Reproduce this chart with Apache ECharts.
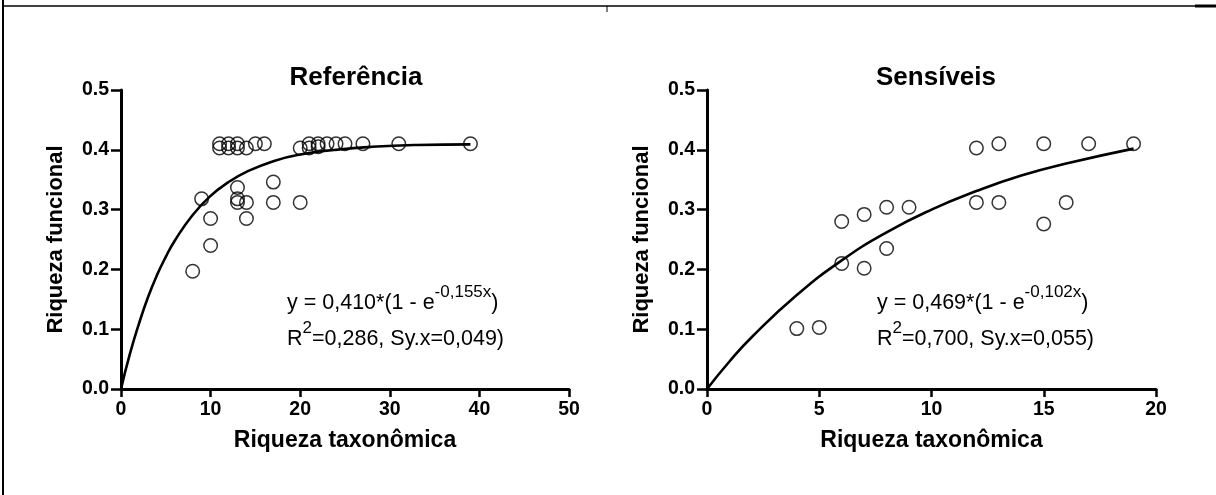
<!DOCTYPE html>
<html><head><meta charset="utf-8">
<script src="https://cdn.jsdelivr.net/npm/echarts@6/dist/echarts.min.js"></script>
<style>html,body{margin:0;padding:0;background:#fff}#c{width:1216px;height:495px}</style>
</head><body><div id="c"></div>
<script>
// Referência (taxonomic richness vs functional richness)
const refPoints = [
  [11,0.410],[11,0.403],[12,0.410],[12,0.403],[13,0.410],[13,0.403],[14,0.403],[15,0.410],[16,0.410],
  [20,0.403],[21,0.410],[21,0.403],[22,0.410],[22,0.405],[23,0.410],[24,0.410],[25,0.410],[27,0.410],[31,0.410],[39,0.410],
  [8,0.197],[9,0.318],[10,0.285],[10,0.240],[13,0.337],[13,0.318],[13,0.312],[14,0.312],[14,0.285],
  [17,0.346],[17,0.312],[20,0.312]
];
// fitted curve (y = 0,410*(1 - e^-0,155x))
const refCurve = [[0,0],[1,0.059],[2,0.109],[3,0.153],[4,0.190],[5,0.221],[6,0.248],[8,0.291],[10,0.323],[12,0.346],[14,0.363],[17,0.381],[20,0.392],[24,0.400],[28,0.405],[33,0.408],[39,0.409]];
// Sensíveis
const senPoints = [
  [4,0.101],[5,0.103],[6,0.280],[6,0.210],[7,0.292],[7,0.202],[8,0.304],[8,0.235],[9,0.304],
  [12,0.403],[12,0.312],[13,0.410],[13,0.312],[15,0.410],[15,0.276],[16,0.312],[17,0.410],[19,0.410]
];
// fitted curve (y = 0,469*(1 - e^-0,102x))
const senCurve = [[0,0],[1,0.046],[2,0.087],[4,0.157],[6,0.215],[8,0.262],[10,0.300],[12,0.331],[14,0.357],[16,0.377],[19,0.402]];

const titles = ['Referência','Sensíveis'];
const xTitle = 'Riqueza taxonômica';
const yTitle = 'Riqueza funcional';
const xMax = [50, 20], xStep = [10, 5];
const yMax = 0.5, yStep = 0.1;
const eqMain = ['y = 0,410*(1 - e', 'y = 0,469*(1 - e'];
const eqExp = ['-0,155x', '-0,102x'];
const eqStats = [['0,286','0,049'],['0,700','0,055']];

const FONT = '"Liberation Sans", Arial, sans-serif';
const chart = echarts.init(document.getElementById('c'), null, {renderer:'canvas'});

const grids = [
  {left:121, right:647, top:90, bottom:106},
  {left:707, right:60, top:90, bottom:106}
];
function xAx(i){
  return {gridIndex:i, type:'value', min:0, max:xMax[i], interval:xStep[i],
    name:xTitle, nameLocation:'middle', nameGap:40,
    nameTextStyle:{fontFamily:FONT, fontWeight:'bold', fontSize:23, color:'#000'},
    axisLine:{show:true, onZero:false, lineStyle:{color:'#000', width:3}},
    axisTick:{show:true, inside:false, length:8, lineStyle:{color:'#000', width:2.5}},
    axisLabel:{margin:11, fontFamily:FONT, fontWeight:'bold', fontSize:19.5, color:'#000'},
    splitLine:{show:false}};
}
function yAx(i){
  return {gridIndex:i, type:'value', min:0, max:yMax, interval:yStep,
    name:yTitle, nameLocation:'middle', nameGap:54, nameRotate:90,
    nameTextStyle:{fontFamily:FONT, fontWeight:'bold', fontSize:22, color:'#000'},
    axisLine:{show:true, onZero:false, lineStyle:{color:'#000', width:3}},
    axisTick:{show:true, inside:false, length:10, lineStyle:{color:'#000', width:2.5}},
    axisLabel:{margin:12, fontFamily:FONT, fontWeight:'bold', fontSize:19.5, color:'#000',
      formatter: v => v.toFixed(1)},
    splitLine:{show:false}};
}
function scatter(i, data){
  return {type:'scatter', xAxisIndex:i, yAxisIndex:i, data:data, symbol:'circle', symbolSize:13.5,
    itemStyle:{color:'rgba(255,255,255,0)', borderColor:'#000', borderWidth:1.5}, z:3, silent:true};
}
function curve(i, data){
  return {type:'line', xAxisIndex:i, yAxisIndex:i, data:data, smooth:0.5, showSymbol:false, symbol:'none',
    lineStyle:{color:'#000', width:2.6}, z:2, silent:true};
}
const eqRich = {
  n:{fontFamily:FONT, fontSize:21.5, color:'#000', lineHeight:30, verticalAlign:'bottom'},
  s:{fontFamily:FONT, fontSize:17, color:'#000', lineHeight:30, verticalAlign:'top', padding:[0,0,12,0]}
};
function eqGraphic(i, x){
  return [
    {type:'text', left:x, top:284, style:{text:'{n|'+eqMain[i]+'}{s|'+eqExp[i]+'}{n|)}', rich:eqRich}},
    {type:'text', left:x, top:320, style:{text:'{n|R}{s|2}{n|='+eqStats[i][0]+', Sy.x='+eqStats[i][1]+')}', rich:eqRich}}
  ];
}
chart.setOption({
  animation:false,
  backgroundColor:'#fff',
  title:[
    {text:titles[0], left:351, top:60, textAlign:'center', textStyle:{fontFamily:FONT, fontWeight:'bold', fontSize:26, color:'#000'}},
    {text:titles[1], left:931, top:60, textAlign:'center', textStyle:{fontFamily:FONT, fontWeight:'bold', fontSize:26, color:'#000'}}
  ],
  grid:grids,
  xAxis:[xAx(0), xAx(1)],
  yAxis:[yAx(0), yAx(1)],
  series:[scatter(0, refPoints), curve(0, refCurve), scatter(1, senPoints), curve(1, senCurve)],
  graphic:[
    ...eqGraphic(0, 287), ...eqGraphic(1, 877),
    {type:'line', shape:{x1:3, y1:0, x2:3, y2:495}, style:{stroke:'#000', lineWidth:2}},
    {type:'line', shape:{x1:3, y1:6, x2:1195, y2:6}, style:{stroke:'#000', lineWidth:1.5}},
    {type:'line', shape:{x1:1195, y1:6, x2:1216, y2:6}, style:{stroke:'#000', lineWidth:3}},
    {type:'line', shape:{x1:607, y1:6, x2:607, y2:12}, style:{stroke:'#000', lineWidth:1}}
  ]
});
</script></body></html>
